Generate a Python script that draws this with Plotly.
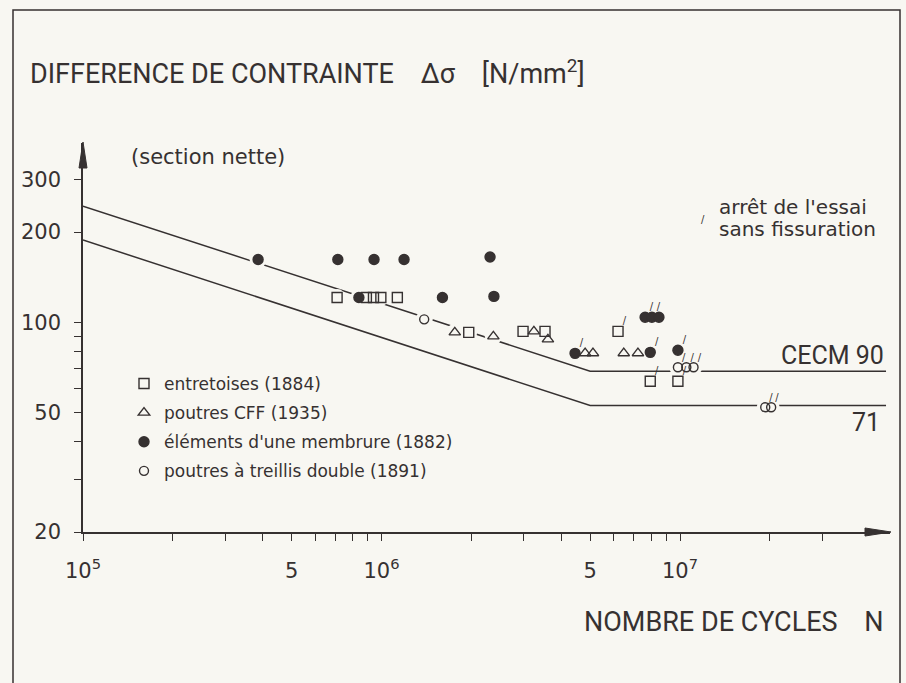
import plotly.graph_objects as go

# ---------------- data ----------------
# entretoises (1884) - open squares
sq_N = [7.1e5, 8.9e5, 9.4e5, 9.95e5, 1.13e6, 1.96e6, 2.98e6, 3.53e6, 6.2e6, 7.95e6, 9.84e6]
sq_S = [121, 121, 121, 121, 121, 92.6, 93.3, 93.3, 93.3, 63.6, 63.6]
sq_run = [0, 0, 0, 0, 0, 0, 0, 0, 1, 1, 1]

# poutres CFF (1935) - open triangles
tr_N = [1.76e6, 2.37e6, 3.24e6, 3.61e6, 4.81e6, 5.11e6, 6.48e6, 7.23e6]
tr_S = [92.6, 89.8, 93.3, 87.7, 78.9, 78.9, 78.9, 78.9]
tr_run = [0, 0, 0, 0, 0, 0, 0, 0]

# éléments d'une membrure (1882) - filled circles
fc_N = [3.86e5, 7.14e5, 9.44e5, 1.19e6, 2.31e6, 8.4e5, 1.6e6, 2.38e6, 4.45e6,
        7.95e6, 7.64e6, 8.05e6, 8.5e6, 9.84e6]
fc_S = [162, 162, 162, 162, 165, 121, 121, 122, 78.8, 79.4, 104, 104, 104, 80.7]
fc_run = [0, 0, 0, 0, 0, 0, 0, 0, 1, 1, 1, 1, 0, 1]

# poutres à treillis double (1891) - open circles
oc_N = [1.39e6, 9.84e6, 1.05e7, 1.11e7, 1.93e7, 2.02e7]
oc_S = [102.3, 70.8, 70.8, 70.8, 52.1, 52.1]
oc_run = [0, 1, 1, 1, 1, 1]

# fatigue resistance lines (CECM)
cat90_N = [1e5, 5e6, 4.9e7]
cat90_S = [244, 68.7, 68.7]
cat71_N = [1e5, 5e6, 4.9e7]
cat71_S = [188, 52.8, 52.8]

x_tickvals = [1e5, 5e5, 1e6, 5e6, 1e7]
x_ticktext = ["10<sup>5</sup>", "5", "10<sup>6</sup>", "5", "10<sup>7</sup>"]
x_minorvals = [2e5, 3e5, 4e5, 6e5, 7e5, 8e5, 9e5,
               2e6, 3e6, 4e6, 6e6, 7e6, 8e6, 9e6, 2e7, 3e7]
y_tickvals = [20, 50, 100, 200, 300]
y_ticktext = ["20", "50", "100", "200", "300"]
y_minorvals = [30, 40, 60, 70, 80, 90]

# ---------------- style ----------------
W, H = 906, 683
L, R, T, B = 83, 16, 143, 151
PW, PH = W - L - R, H - T - B
BG = "#f8f7f2"
INK = "#363131"
FONT = "Roboto"
FONT2 = "DejaVu Sans"


def px(x, y):
    return (x - L) / PW, (H - B - y) / PH


fig = go.Figure()

for n, s in [(cat90_N, cat90_S), (cat71_N, cat71_S)]:
    fig.add_trace(go.Scatter(x=n, y=s, mode="lines", line=dict(color=INK, width=1.5),
                             showlegend=False, hoverinfo="skip"))

# halos that break the lines around the markers
for n, s in [(sq_N, sq_S), (tr_N, tr_S), (fc_N, fc_S), (oc_N, oc_S)]:
    fig.add_trace(go.Scatter(x=n, y=s, mode="markers",
                             marker=dict(size=17, color=BG, line=dict(width=0)),
                             showlegend=False, hoverinfo="skip"))

series = [
    ("entretoises (1884)", sq_N, sq_S, sq_run, "square-open", 10),
    ("poutres CFF (1935)", tr_N, tr_S, tr_run, "triangle-up-open", 10),
    ("éléments d'une membrure (1882)", fc_N, fc_S, fc_run, "circle", 10),
    ("poutres à treillis double (1891)", oc_N, oc_S, oc_run, "circle-open", 9),
]
for i, (name, n, s, run, sym, size) in enumerate(series):
    fig.add_trace(go.Scatter(
        x=n, y=s, mode="markers", name=name, legendgroup=f"g{i}",
        marker=dict(symbol=sym, size=size, color=INK, line=dict(color=INK, width=1.4)),
    ))
    rn = [a for a, r in zip(n, run) if r]
    rs = [b for b, r in zip(s, run) if r]
    if rn:
        fig.add_trace(go.Scatter(
            x=rn, y=rs, mode="markers+text", text=["/"] * len(rn),
            textposition="top right", textfont=dict(size=10, color=INK, family=FONT2),
            marker=dict(size=size - 4, color="rgba(0,0,0,0)"),
            showlegend=False, hoverinfo="skip"))

ann = []


def text(x, y, t, size, xanchor="left", yanchor="middle", align="left", family=FONT):
    ax, ay = px(x, y)
    ann.append(dict(x=ax, y=ay, xref="paper", yref="paper", text=t, showarrow=False,
                    xanchor=xanchor, yanchor=yanchor, align=align,
                    font=dict(size=size, color=INK, family=family)))


NB = "\u00a0"
text(28, 72, f"DIFFERENCE DE CONTRAINTE{NB*4}Δσ{NB*4}[N/mm<sup>2</sup>]", 27)
text(886, 622, f"NOMBRE DE CYCLES{NB*4}N", 27, xanchor="right")
text(129, 157, "(section nette)", 21, family=FONT2)
text(717, 207, "arrêt de l'essai", 20, family=FONT2)
text(717, 229, "sans fissuration", 20, family=FONT2)
text(703, 219, "/", 10, xanchor="center", family=FONT2)
text(886, 355, "CECM 90", 25, xanchor="right")
text(882, 422, "71", 25, xanchor="right")


# axis arrowheads (long, narrow filled triangles)
def tri(p1, p2, p3):
    a, b, c = px(*p1), px(*p2), px(*p3)
    return dict(type="path", xref="paper", yref="paper",
                path=f"M{a[0]},{a[1]} L{b[0]},{b[1]} L{c[0]},{c[1]} Z",
                fillcolor=INK, line=dict(color=INK, width=1), layer="above")


shapes = [
    tri((83, 142), (79, 168), (87, 168)),
    tri((891, 532), (865, 528), (865, 536)),
]
fx0, fy0 = px(13, 10)
fx1, fy1 = px(900, 700)
shapes.append(dict(type="rect", xref="paper", yref="paper", x0=fx0, y0=fy1, x1=fx1, y1=fy0,
                   line=dict(color=INK, width=1.5), layer="above"))

fig.update_layout(
    width=W, height=H,
    margin=dict(l=L, r=R, t=T, b=B),
    paper_bgcolor=BG, plot_bgcolor=BG,
    font=dict(family=FONT, color=INK),
    annotations=ann,
    shapes=shapes,
    hovermode=False,
    legend=dict(x=px(124, 0)[0], y=px(0, 366)[1], xanchor="left", yanchor="top",
                bgcolor="rgba(0,0,0,0)", font=dict(size=17, color=INK, family=FONT2),
                tracegroupgap=4, traceorder="grouped", itemclick=False),
    xaxis=dict(type="log", range=[5, 5 + PW / 298.5], showline=True, linecolor=INK, linewidth=1.5,
               ticks="outside", ticklen=7, tickwidth=1.2, tickcolor=INK,
               tickvals=x_tickvals, ticktext=x_ticktext, showgrid=False, zeroline=False,
               minor=dict(tickvals=x_minorvals, ticks="outside", ticklen=7, tickwidth=1.2,
                          tickcolor=INK, showgrid=False),
               tickfont=dict(size=21, color=INK, family=FONT2), ticklabelstandoff=12),
    yaxis=dict(type="log", range=[1.30103, 1.30103 + PH / 300], showline=True, linecolor=INK,
               linewidth=1.5, ticks="outside", ticklen=7, tickwidth=1.2, tickcolor=INK,
               tickvals=y_tickvals, ticktext=y_ticktext, showgrid=False, zeroline=False,
               minor=dict(tickvals=y_minorvals, ticks="outside", ticklen=7, tickwidth=1.2,
                          tickcolor=INK, showgrid=False),
               tickfont=dict(size=21, color=INK, family=FONT2), ticklabelstandoff=9),
)

fig.write_html("out.html", config={"displayModeBar": False},
               post_script="document.body.style.margin='0';")
